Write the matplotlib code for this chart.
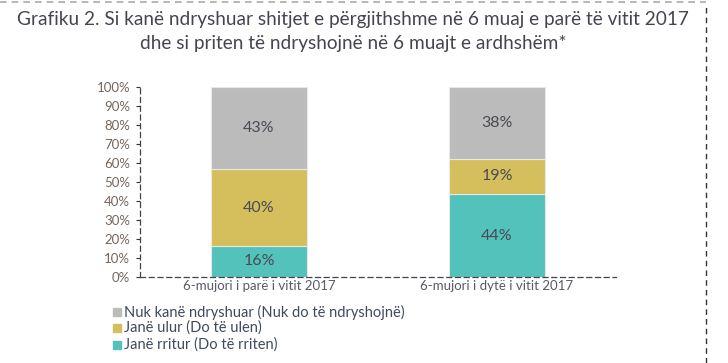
import matplotlib
matplotlib.use("Agg")
import matplotlib.pyplot as plt
from matplotlib.lines import Line2D
from matplotlib.patches import Rectangle

categories = ["6-mujori i parë i vitit 2017", "6-mujori i dytë i vitit 2017"]
series_names = ["Janë rritur (Do të rriten)", "Janë ulur (Do të ulen)", "Nuk kanë ndryshuar (Nuk do të ndryshojnë)"]
rritur = [16.4, 43.6]
ulur = [40.2, 18.6]
pandryshuar = [43.4, 37.8]
labels_rritur = ["16%", "44%"]
labels_ulur = ["40%", "19%"]
labels_pandr = ["43%", "38%"]
yticks = [0, 10, 20, 30, 40, 50, 60, 70, 80, 90, 100]
colors = ["#52C2BA", "#D4BF5C", "#BBBBBB"]

plt.rcParams['font.family'] = ['Lato', 'DejaVu Sans']

fig = plt.figure(figsize=(7.28, 3.63), dpi=100)
W, H = 728, 363
ax = fig.add_axes([140 / W, 1 - 277 / H, 476 / W, 190 / H])

x = [0, 1]
series = [rritur, ulur, pandryshuar]
labs = [labels_rritur, labels_ulur, labels_pandr]
bottom = [0, 0]
for vals, lab, c in zip(series, labs, colors):
    ax.bar(x, vals, width=0.4, bottom=bottom, color=c, edgecolor="#e8e8e8", linewidth=0.8)
    for xi, v, b, t in zip(x, vals, bottom, lab):
        ax.text(xi, b + v / 2, t, ha="center", va="center", fontsize=11.5, color="#4a4a55")
    bottom = [b + v for b, v in zip(bottom, vals)]

ax.set_xlim(-0.5, 1.5)
ax.set_ylim(0, 100)
ax.set_yticks(yticks)
ax.set_yticklabels([f"{t}%" for t in yticks], fontsize=9.5, color="#76665c")
ax.set_xticks(x)
ax.set_xticklabels(categories, fontsize=9.5, color="#5a5a66")
ax.tick_params(axis="x", length=0, pad=2)
ax.tick_params(axis="y", length=3, width=0.8, color="#333333", pad=4)
for s in ["top", "right"]:
    ax.spines[s].set_visible(False)
for s in ["left", "bottom"]:
    ax.spines[s].set_linestyle((0, (4, 3)))
    ax.spines[s].set_color("#444444")
    ax.spines[s].set_linewidth(0.9)

fig.text(353 / W, 1 - 20 / H, "Grafiku 2. Si kanë ndryshuar shitjet e përgjithshme në 6 muaj e parë të vitit 2017",
         ha="center", va="center", fontsize=13.7, color="#454552")
fig.text(353 / W, 1 - 44 / H, "dhe si priten të ndryshojnë në 6 muajt e ardhshëm*",
         ha="center", va="center", fontsize=13.7, color="#454552")

# legend
leg_y = [312, 328, 345]
leg_order = [2, 1, 0]
for yy, idx in zip(leg_y, leg_order):
    fig.patches.append(Rectangle((113 / W, 1 - (yy + 4) / H), 8 / W, 8 / H,
                                 transform=fig.transFigure, color=colors[idx]))
    fig.text(124 / W, 1 - yy / H, series_names[idx], ha="left", va="center",
             fontsize=10.5, color="#3f4a5e")

# dashed frame
fig.add_artist(Line2D([0, 706 / W], [1 - 2 / H, 1 - 2 / H], transform=fig.transFigure,
                      color="#aaaaaa", linestyle=(0, (4, 3)), linewidth=1.2))
fig.add_artist(Line2D([706 / W, 706 / W], [0, 1 - 4 / H], transform=fig.transFigure,
                      color="#333333", linestyle=(0, (4, 3)), linewidth=1.0))

fig.savefig("out.png", dpi=100)
